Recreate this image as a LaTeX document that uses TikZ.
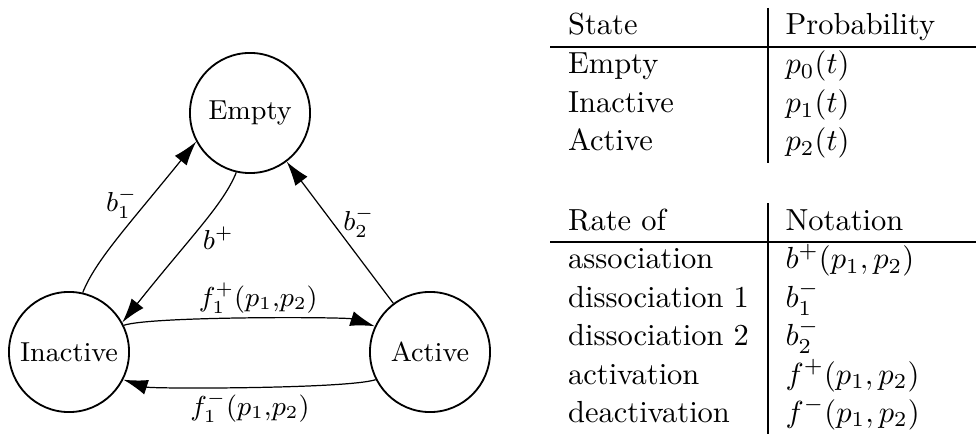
\documentclass[tikz,border=0pt]{standalone}
\usetikzlibrary{arrows.meta}
\begin{document}
\begin{tikzpicture}[x=0.328pt,y=0.328pt,
  state/.style={draw,circle,line width=0.6pt,minimum size=39.4pt,inner sep=0pt,font=\small},
  arr/.style={line width=0.4pt,-{Latex[length=8pt,width=5pt]}},
  lab/.style={inner sep=0pt,font=\small},
  cell/.style={anchor=base west,inner sep=0pt,font=\normalsize},
  vrule/.style={line width=0.4pt},
  hrule/.style={line width=0.6pt}]
\useasboundingbox (0,0) rectangle (976,434);
% states
\node[state] (I) at (69,82) {Inactive};
\node[state] (E) at (250,321) {Empty};
\node[state] (A) at (430,82) {Active};
% transitions
\draw[arr] (I.77) .. controls +(68:35) and +(231:110) .. (E.208);
\draw[arr] (E.257) .. controls +(248:35) and +(51.5:110) .. (I.29);
\draw[arr] (A) -- (E);
\draw[arr] (I.26) .. controls +(18:30) and +(162:30) .. (A.155);
\draw[arr] (A.207) .. controls +(198:30) and +(-18:30) .. (I.-27);
% labels
\node[lab] (lb1) at (121.7,231) {$b_1^-$};
\node[lab] (lbp) at (218.3,196) {$b^+$};
\node[lab] (lb2) at (359,211.5) {$b_2^-$};
\node[lab] (lfp) at (258.3,136) {$f_1^+(p_1{,}p_2)$};
\node[lab] (lfm) at (250,27) {$f_1^-(p_1{,}p_2)$};
% table 1
\draw[vrule] (768,426) coordinate (t1a) -- (768,271) coordinate (t1b);
\draw[hrule] (550,387.3) coordinate (t1c) -- (976,387.3) coordinate (t1d);
\node[cell] (h11) at (567.5,399) {State};
\node[cell] (h12) at (785,399) {Probability};
\node[cell] (r11) at (567.5,360) {Empty};
\node[cell] (r12) at (785,360) {$p_0(t)$};
\node[cell] (r21) at (567.5,321.5) {Inactive};
\node[cell] (r22) at (785,321.5) {$p_1(t)$};
\node[cell] (r31) at (567.5,283.3) {Active};
\node[cell] (r32) at (785,283.3) {$p_2(t)$};
% table 2
\draw[vrule] (768,230.7) coordinate (t2a) -- (768,0) coordinate (t2b);
\draw[hrule] (550,192.3) coordinate (t2c) -- (976,192.3) coordinate (t2d);
\node[cell] (h21) at (567.5,203.3) {Rate of};
\node[cell] (h22) at (785,203.3) {Notation};
\node[cell] (s11) at (567.5,165.3) {association};
\node[cell] (s12) at (785,165.3) {$b^+(p_1,p_2)$};
\node[cell] (s21) at (567.5,126.7) {dissociation 1};
\node[cell] (s22) at (785,126.7) {$b_1^-$};
\node[cell] (s31) at (567.5,88.3) {dissociation 2};
\node[cell] (s32) at (785,88.3) {$b_2^-$};
\node[cell] (s41) at (567.5,50) {activation};
\node[cell] (s42) at (785,50) {$f^+(p_1,p_2)$};
\node[cell] (s51) at (567.5,12) {deactivation};
\node[cell] (s52) at (785,12) {$f^-(p_1,p_2)$};
\end{tikzpicture}
\end{document}
